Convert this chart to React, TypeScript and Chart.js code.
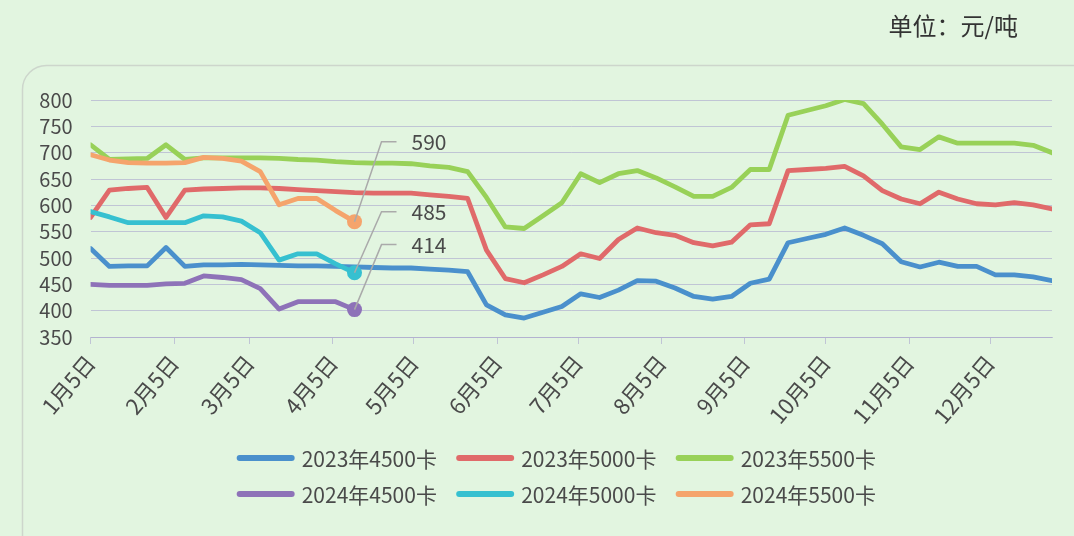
import React, { useEffect, useRef } from "react";
import { Chart, registerables } from "chart.js";
Chart.register(...registerables);

const weekDates = [
  "01-05","01-12","01-19","01-26","02-02","02-09","02-16","02-23","03-02","03-09",
  "03-16","03-23","03-30","04-06","04-13","04-20","04-27","05-04","05-11","05-18",
  "05-25","06-01","06-08","06-15","06-22","06-29","07-06","07-13","07-20","07-27",
  "08-03","08-10","08-17","08-24","08-31","09-07","09-14","09-21","09-28","10-05",
  "10-12","10-19","10-26","11-02","11-09","11-16","11-23","11-30","12-07","12-14",
  "12-21","12-28",
];
const tickDates = ["01-05","02-05","03-05","04-05","05-05","06-05","07-05","08-05","09-05","10-05","11-05","12-05"];
const tickLabels = ["1月5日","2月5日","3月5日","4月5日","5月5日","6月5日","7月5日","8月5日","9月5日","10月5日","11月5日","12月5日"];

const y2023_4500 = [518,484,485,485,520,484,487,487,488,487,486,485,485,484,483,482,481,481,479,477,474,411,392,386,397,408,432,425,439,457,456,443,427,422,427,452,460,529,537,545,557,543,527,493,483,492,484,484,468,468,464,457];
const y2023_5000 = [577,629,632,634,577,629,631,632,633,633,632,630,628,626,624,623,623,623,620,617,613,515,461,453,468,484,508,499,535,557,548,543,529,523,530,563,565,666,668,670,674,656,628,612,603,625,612,603,601,605,601,593];
const y2023_5500 = [715,687,688,689,715,687,690,690,690,690,689,687,686,683,681,680,680,679,675,672,664,615,559,556,580,605,660,643,660,666,652,635,617,617,634,668,668,771,780,789,801,793,754,711,706,730,718,718,718,718,714,700];
const y2024_4500 = [450,448,448,448,451,452,466,463,459,442,403,417,417,417,402];
const y2024_5000 = [588,578,567,567,567,567,580,578,570,548,496,508,508,489,472];
const y2024_5500 = [696,686,681,680,680,681,691,689,684,664,601,613,613,590,569];

const seriesNames = ["2023年4500卡","2023年5000卡","2023年5500卡","2024年4500卡","2024年5000卡","2024年5500卡"];
const endLabels = [null, null, null, "414", "485", "590"];
const unitText = "单位：元/吨";

const COLORS = ["#4a90cc", "#e06a6a", "#98d158", "#8e72b8", "#36c0d0", "#f5a46c"];
const FONT = "'Noto Sans CJK SC', 'Noto Sans', sans-serif";
const BG = "#e2f5e0";
const GRID = "rgba(170,165,205,0.6)";
const TEXT = "#4a4a4a";

const cum = [0,31,59,90,120,151,181,212,243,273,304,334];
const doy = (s: string) => { const [m, d] = s.split("-").map(Number); return cum[m - 1] + d; };

const leaderDy: Record<string, number> = { "414": -65, "485": -61, "590": -80 };

const decor = {
  id: "decor",
  beforeDraw(chart: any) {
    const { ctx, width, height } = chart;
    ctx.save();
    ctx.fillStyle = BG;
    ctx.fillRect(0, 0, width, height);
    ctx.strokeStyle = "#cdd6cc";
    ctx.lineWidth = 1.5;
    ctx.beginPath();
    (ctx as any).roundRect(22.5, 65.5, width + 60, height + 60, 24);
    ctx.stroke();
    ctx.fillStyle = "#333";
    ctx.font = `24px ${FONT}`;
    ctx.textAlign = "right";
    ctx.textBaseline = "middle";
    ctx.fillText(unitText, 1018, 26);
    ctx.restore();
  },
  afterDatasetsDraw(chart: any) {
    const { ctx } = chart;
    ctx.save();
    chart.data.datasets.forEach((ds: any, i: number) => {
      const lab = endLabels[i];
      if (!lab) return;
      const meta = chart.getDatasetMeta(i);
      const pt = meta.data[meta.data.length - 1];
      const dy = leaderDy[lab];
      ctx.strokeStyle = "#aaaaaa";
      ctx.lineWidth = 1.5;
      ctx.beginPath();
      ctx.moveTo(pt.x, pt.y);
      ctx.lineTo(pt.x + 27, pt.y + dy);
      ctx.lineTo(pt.x + 42, pt.y + dy);
      ctx.stroke();
      ctx.fillStyle = TEXT;
      ctx.font = `21px ${FONT}`;
      ctx.textAlign = "left";
      ctx.textBaseline = "middle";
      ctx.fillText(lab, pt.x + 57, pt.y + dy);
    });
    ctx.restore();
  },
  afterDraw(chart: any) {
    const { ctx, chartArea } = chart;
    ctx.save();
    ctx.font = `21px ${FONT}`;
    const colW = 219.5;
    const lineLen = 58;
    const textOff = 65;
    const maxText = Math.max(...seriesNames.map((n) => ctx.measureText(n).width));
    const total = 2 * colW + textOff + maxText;
    const cx = (chartArea.left + chartArea.right) / 2 - 15;
    const left = cx - total / 2;
    const rows = [chartArea.bottom + 121, chartArea.bottom + 157];
    seriesNames.forEach((n, i) => {
      const r = Math.floor(i / 3);
      const c = i % 3;
      const x = left + c * colW;
      const y = rows[r];
      ctx.strokeStyle = COLORS[i];
      ctx.lineWidth = 6;
      ctx.lineCap = "round";
      ctx.beginPath();
      ctx.moveTo(x + 3, y);
      ctx.lineTo(x + lineLen - 3, y);
      ctx.stroke();
      ctx.fillStyle = TEXT;
      ctx.textAlign = "left";
      ctx.textBaseline = "middle";
      ctx.fillText(n, x + textOff, y + 1);
    });
    ctx.restore();
  },
};

export default function App() {
  const ref = useRef<HTMLCanvasElement | null>(null);
  useEffect(() => {
    if (!ref.current) return;
    const all = [y2023_4500, y2023_5000, y2023_5500, y2024_4500, y2024_5000, y2024_5500];
    const datasets = all.map((vals, i) => {
      const is24 = i >= 3;
      return {
        label: seriesNames[i],
        data: vals.map((v, k) => ({ x: doy(weekDates[k]), y: v })),
        borderColor: COLORS[i],
        backgroundColor: COLORS[i],
        borderWidth: 4.8,
        tension: 0,
        borderJoinStyle: "round" as const,
        borderCapStyle: "round" as const,
        pointRadius: (c: any) => (is24 && c.dataIndex === vals.length - 1 ? 7.5 : 0),
        pointBackgroundColor: COLORS[i],
        pointBorderWidth: 0,
        order: is24 ? 0 : 1,
      };
    });
    const chart = new Chart(ref.current, {
      type: "line",
      data: { datasets },
      plugins: [decor],
      options: {
        animation: false,
        responsive: false,
        layout: { padding: { top: 100, left: 0, right: 22, bottom: 99 } },
        plugins: { legend: { display: false }, tooltip: { enabled: false }, title: { display: false } },
        scales: {
          x: {
            type: "linear",
            min: doy(weekDates[0]),
            max: doy(weekDates[weekDates.length - 1]),
            afterBuildTicks: (s: any) => { s.ticks = tickDates.map((d) => ({ value: doy(d) })); },
            afterFit: (s: any) => { s.height = 100; },
            ticks: {
              autoSkip: false,
              minRotation: 50,
              maxRotation: 50,
              padding: 6,
              color: TEXT,
              font: { size: 22, family: FONT },
              callback: (v: any) => {
                const i = tickDates.findIndex((d) => doy(d) === v);
                return i >= 0 ? tickLabels[i] : "";
              },
            },
            grid: { drawOnChartArea: false, drawTicks: true, tickLength: 7, color: GRID },
            border: { display: true, color: GRID },
          },
          y: {
            min: 350,
            max: 800,
            afterFit: (s: any) => { s.width = 90.6; },
            ticks: { stepSize: 50, autoSkip: false, padding: 18, color: TEXT, font: { size: 20, family: FONT } },
            grid: { color: GRID, drawTicks: false },
            border: { display: false },
          },
        },
      },
    });
    return () => chart.destroy();
  }, []);
  return (
    <div style={{ position: "fixed", left: 0, top: 0, width: 1074, height: 536 }}>
      <canvas ref={ref} width={1074} height={536} style={{ display: "block" }} />
    </div>
  );
}
